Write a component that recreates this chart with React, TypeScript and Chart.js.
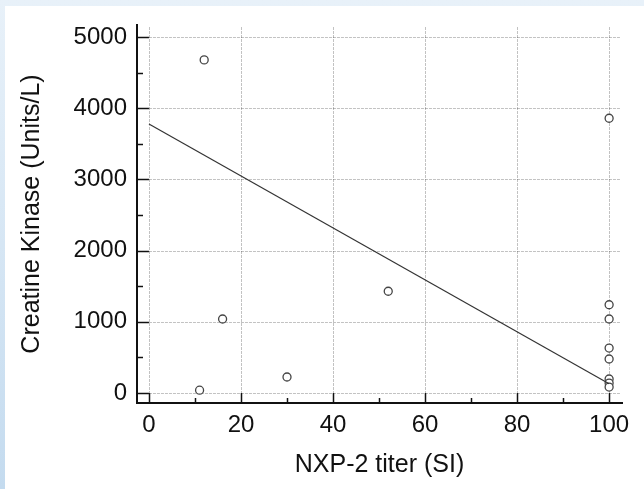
import React, { useEffect, useRef } from "react";
import { Chart, registerables } from "chart.js";

Chart.register(...registerables);

const titerX = [11, 12, 16, 30, 52, 100, 100, 100, 100, 100, 100, 100, 100];
const ckY = [40, 4680, 1040, 225, 1430, 3860, 1240, 1040, 632, 478, 197, 140, 84];
const fitX = [0, 100];
const fitY = [3780, 130];
const xMajor = [0, 20, 40, 60, 80, 100];
const xMinor = [10, 30, 50, 70, 90];
const yMajor = [0, 1000, 2000, 3000, 4000, 5000];
const yMinor = [500, 1500, 2500, 3500, 4500];
const xTitle = "NXP-2 titer (SI)";
const yTitle = "Creatine Kinase (Units/L)";

const FONT = "'Liberation Sans', Arial, sans-serif";

const gridPlugin = {
  id: "customGrid",
  beforeDatasetsDraw(chart: any) {
    const { ctx, chartArea, scales } = chart;
    const xs = scales.x;
    const ys = scales.y;
    const x0 = xs.getPixelForValue(0);
    const y0 = ys.getPixelForValue(0);
    ctx.save();
    ctx.strokeStyle = "rgba(0,0,0,0.24)";
    ctx.lineWidth = 1;
    ctx.setLineDash([3, 1]);
    yMajor.forEach((v) => {
      const y = Math.round(ys.getPixelForValue(v)) + 0.5;
      ctx.beginPath();
      ctx.moveTo(x0, y);
      ctx.lineTo(chartArea.right - 2, y);
      ctx.stroke();
    });
    xMajor.forEach((v) => {
      const x = Math.round(xs.getPixelForValue(v)) + 0.5;
      ctx.beginPath();
      ctx.moveTo(x, chartArea.top + 2);
      ctx.lineTo(x, chartArea.bottom);
      ctx.stroke();
    });
    ctx.setLineDash([]);
    ctx.strokeStyle = "#111";
    ctx.lineWidth = 1.5;
    const left = chartArea.left;
    const bottom = chartArea.bottom;
    yMajor.forEach((v) => {
      const y = Math.round(ys.getPixelForValue(v)) + 0.5;
      ctx.beginPath();
      ctx.moveTo(left, y);
      ctx.lineTo(x0, y);
      ctx.stroke();
    });
    yMinor.forEach((v) => {
      const y = Math.round(ys.getPixelForValue(v)) + 0.5;
      ctx.beginPath();
      ctx.moveTo(left, y);
      ctx.lineTo(left + 6, y);
      ctx.stroke();
    });
    xMajor.forEach((v) => {
      const x = Math.round(xs.getPixelForValue(v)) + 0.5;
      ctx.beginPath();
      ctx.moveTo(x, bottom);
      ctx.lineTo(x, y0);
      ctx.stroke();
    });
    xMinor.forEach((v) => {
      const x = Math.round(xs.getPixelForValue(v)) + 0.5;
      ctx.beginPath();
      ctx.moveTo(x, bottom);
      ctx.lineTo(x, bottom - 5);
      ctx.stroke();
    });
    ctx.restore();
  },
};

export default function App() {
  const ref = useRef<HTMLCanvasElement | null>(null);
  useEffect(() => {
    if (!ref.current) return;
    const chart = new Chart(ref.current, {
      type: "scatter",
      data: {
        datasets: [
          {
            type: "line",
            data: fitX.map((x, i) => ({ x, y: fitY[i] })),
            borderColor: "#333",
            borderWidth: 1.2,
            pointRadius: 0,
            fill: false,
          } as any,
          {
            data: titerX.map((x, i) => ({ x, y: ckY[i] })),
            pointRadius: 4,
            pointBorderWidth: 1.3,
            borderColor: "#444",
            backgroundColor: "#fff",
            pointBackgroundColor: "#fff",
            pointBorderColor: "#444",
          },
        ],
      },
      options: {
        animation: false,
        responsive: false,
        maintainAspectRatio: false,
        layout: { padding: { left: 0, top: 25, right: 22, bottom: 0 } },
        plugins: { legend: { display: false }, tooltip: { enabled: false } },
        scales: {
          x: {
            type: "linear",
            min: -2.6,
            max: 102.8,
            afterBuildTicks: (s: any) => {
              s.ticks = xMajor.map((v) => ({ value: v }));
            },
            afterFit: (s: any) => {
              s.height = 86;
            },
            grid: { display: false, drawTicks: false },
            border: { display: true, color: "#111", width: 2 },
            ticks: {
              padding: 8,
              color: "#111",
              font: { family: FONT, size: 24 },
              maxRotation: 0,
              autoSkip: false,
              callback: (v: any) => String(v),
            },
            title: {
              display: true,
              text: xTitle,
              color: "#111",
              font: { family: FONT, size: 25 },
              padding: { top: 0, bottom: 9 },
            },
          },
          y: {
            type: "linear",
            min: -140,
            max: 5170,
            afterBuildTicks: (s: any) => {
              s.ticks = yMajor.map((v) => ({ value: v }));
            },
            afterFit: (s: any) => {
              s.width = 137;
            },
            grid: { display: false, drawTicks: false },
            border: { display: true, color: "#111", width: 2 },
            ticks: {
              padding: 10,
              color: "#111",
              font: { family: FONT, size: 24 },
              autoSkip: false,
              callback: (v: any) => String(v),
            },
            title: {
              display: true,
              text: yTitle,
              color: "#111",
              font: { family: FONT, size: 25 },
              padding: { top: 17, bottom: 0 },
            },
          },
        },
      },
      plugins: [gridPlugin],
    });
    return () => chart.destroy();
  }, []);

  return (
    <div
      style={{
        position: "absolute",
        left: 0,
        top: 0,
        width: 644,
        height: 489,
        background: "linear-gradient(to bottom, #e8f1f9, #c4dbef)",
      }}
    >
      <div
        style={{
          position: "absolute",
          left: 5,
          top: 6,
          right: 0,
          bottom: 0,
          background: "#fff",
        }}
      />
      <canvas
        ref={ref}
        width={644}
        height={489}
        style={{ position: "absolute", left: 0, top: 0, width: 644, height: 489 }}
      />
    </div>
  );
}
